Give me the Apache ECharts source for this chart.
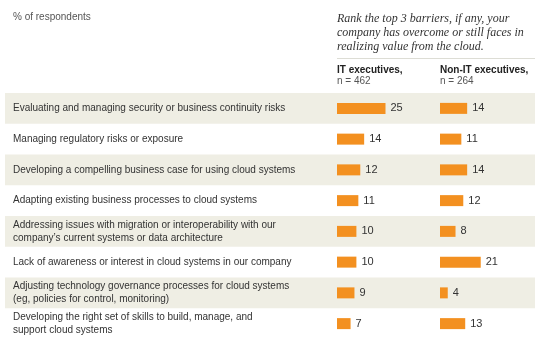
<!DOCTYPE html>
<html><head><meta charset="utf-8">
<script src="https://cdn.jsdelivr.net/npm/echarts@6/dist/echarts.min.js"></script>
<style>html,body{margin:0;padding:0;background:#fff}#c{width:545px;height:346px}</style>
</head><body><div id="c"></div>
<script>
const categories = [
  "Evaluating and managing security or business continuity risks",
  "Managing regulatory risks or exposure",
  "Developing a compelling business case for using cloud systems",
  "Adapting existing business processes to cloud systems",
  "Addressing issues with migration or interoperability with our\ncompany\u2019s current systems or data architecture",
  "Lack of awareness or interest in cloud systems in our company",
  "Adjusting technology governance processes for cloud systems\n(eg, policies for control, monitoring)",
  "Developing the right set of skills to build, manage, and\nsupport cloud systems"
];
const itExecutives = [25, 14, 12, 11, 10, 10, 9, 7];
const nonItExecutives = [14, 11, 14, 12, 8, 21, 4, 13];
const seriesNames = ["IT executives,", "Non-IT executives,"];
const seriesN = ["n = 462", "n = 264"];
const subtitle = "% of respondents";
const question = "Rank the top 3 barriers, if any, your\ncompany has overcome or still faces in\nrealizing value from the cloud.";

const SANS = "'Liberation Sans', Arial, sans-serif";
const TOP = 93, H = 246;
const chart = echarts.init(document.getElementById('c'), null, {renderer: 'canvas'});
const barLabel = {show: true, position: 'right', distance: 5, color: '#333', fontSize: 11, fontFamily: SANS};
chart.setOption({
  animation: false,
  grid: [
    {left: 5, width: 530, top: TOP, height: H},
    {left: 337, width: 97, top: TOP, height: H},
    {left: 440, width: 97, top: TOP, height: H}
  ],
  xAxis: [0, 1, 2].map(i => ({type: 'value', gridIndex: i, min: 0, max: 50, show: false})),
  yAxis: [0, 1, 2].map(i => ({
    type: 'category', gridIndex: i, data: categories, inverse: true,
    axisLine: {show: false}, axisTick: {show: false},
    splitLine: {show: false},
    splitArea: i === 0 ? {show: true, areaStyle: {color: ['#EFEEE4', 'rgba(255,255,255,0)']}} : {show: false},
    axisLabel: i === 0 ? {inside: true, margin: 8, align: 'left', color: '#333', fontSize: 10, fontFamily: SANS, lineHeight: 13} : {show: false}
  })),
  series: [
    {type: 'bar', name: seriesNames[0], xAxisIndex: 1, yAxisIndex: 1, data: itExecutives, barWidth: 11,
     itemStyle: {color: '#F39020'}, label: barLabel},
    {type: 'bar', name: seriesNames[1], xAxisIndex: 2, yAxisIndex: 2, data: nonItExecutives, barWidth: 11,
     itemStyle: {color: '#F39020'}, label: barLabel}
  ],
  graphic: [
    {type: 'text', left: 13, top: 12, style: {text: subtitle, fill: '#555', font: '10px ' + SANS}},
    {type: 'text', left: 337, top: 12, style: {text: question, fill: '#333', font: 'italic 12px "Liberation Serif", serif', lineHeight: 14}},
    {type: 'line', shape: {x1: 337, y1: 58.5, x2: 535, y2: 58.5}, style: {stroke: '#DDDDD5', lineWidth: 1}},
    {type: 'text', left: 337, top: 65, style: {text: seriesNames[0], fill: '#222', font: 'bold 10px ' + SANS}},
    {type: 'text', left: 337, top: 76, style: {text: seriesN[0], fill: '#555', font: '10px ' + SANS}},
    {type: 'text', left: 440, top: 65, style: {text: seriesNames[1], fill: '#222', font: 'bold 10px ' + SANS}},
    {type: 'text', left: 440, top: 76, style: {text: seriesN[1], fill: '#555', font: '10px ' + SANS}}
  ]
});
</script></body></html>
